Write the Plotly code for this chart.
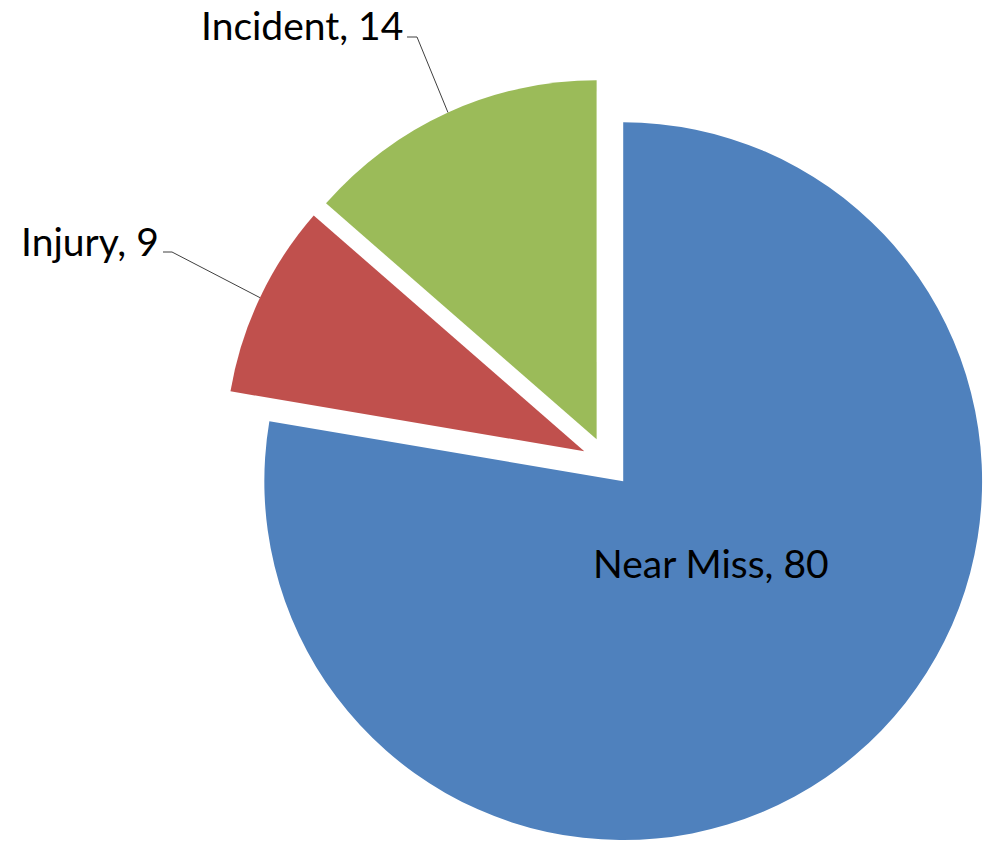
import math
import plotly.graph_objects as go

# ---- data ----
labels = ["Near Miss", "Injury", "Incident"]
values = [80, 9, 14]
colors = ["#4F81BD", "#C0504D", "#9BBB59"]
pulls = [0.07, 0.07, 0.07]

# ---- layout constants (pixels) ----
W, H = 991, 859
CX, CY = 607, 462      # pie centre
HALF = 384             # half size of pie domain box
FONT = "Lato"
FSIZE = 39

dom_x = [(CX - HALF) / W, min(1.0, (CX + HALF) / W)]
dom_y = [1 - (CY + HALF) / H, 1 - (CY - HALF) / H]
R = (2 * HALF) / (2 * (1 + max(pulls)))

texts = [f"{l}, {v}" for l, v in zip(labels, values)]

fig = go.Figure(go.Pie(
    labels=labels, values=values, sort=False, direction="clockwise", rotation=0,
    pull=pulls, marker=dict(colors=colors, line=dict(width=0)),
    textinfo="none",
    domain=dict(x=dom_x, y=dom_y), hoverinfo="skip", showlegend=False,
))

def px(x):
    return x / W

def py(y):
    return 1 - y / H

# label placement: (anchor x, centre y, xanchor, leader line y, elbow x) ; None = no leader
placement = {
    0: (711, 563, "center", None, None),
    1: (161, 241, "right", 252, 172),
    2: (405, 25, "right", 37, 417),
}
total = sum(values)
annotations = []
shapes = []
cum = 0
for i, v in enumerate(values):
    a0 = cum / total * 2 * math.pi
    cum += v
    a1 = cum / total * 2 * math.pi
    xa, yc, anchor, yl, xe = placement[i]
    annotations.append(dict(
        text=texts[i], x=px(xa), y=py(yc), xref="paper", yref="paper",
        xanchor=anchor, yanchor="middle", showarrow=False,
        font=dict(family=FONT, size=FSIZE, color="black"),
    ))
    if yl is not None:
        am = (a0 + a1) / 2
        ex = CX + R * (1 + pulls[i]) * math.sin(am)
        ey = CY - R * (1 + pulls[i]) * math.cos(am)
        shapes.append(dict(
            type="path", xref="paper", yref="paper",
            path=f"M {px(xa + 2)} {py(yl)} L {px(xe)} {py(yl)} L {px(ex)} {py(ey)}",
            line=dict(color="#404040", width=1),
        ))

fig.update_layout(
    width=W, height=H, margin=dict(l=0, r=0, t=0, b=0),
    paper_bgcolor="white", plot_bgcolor="white",
    annotations=annotations, shapes=shapes,
)

fig.write_html("out.html")
